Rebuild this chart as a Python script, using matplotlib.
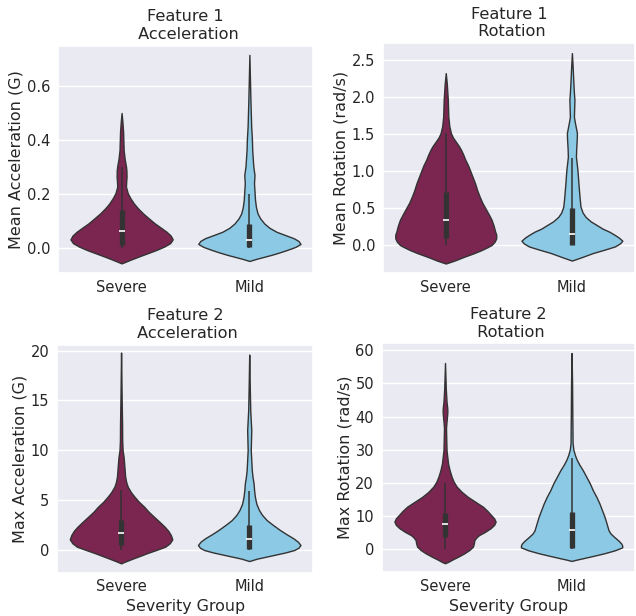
import matplotlib
matplotlib.use("Agg")
import matplotlib.pyplot as plt
import numpy as np
import seaborn as sns

GROUPS = ["Severe", "Mild"]
COLORS = ["#7A2650", "#8BC9E5"]
EDGE = "#333333"

# violin outlines: y values and relative half-width (max = 1)
# box stats: [whisker low, q1, median, q3, whisker high]

# Feature 1 - mean acceleration
ACC1_SEVERE_Y = [-0.057, -0.050, -0.043, -0.032, -0.020, -0.008, 0.005, 0.018, 0.032, 0.046,
                 0.060, 0.075, 0.091, 0.110, 0.128, 0.147, 0.165, 0.185, 0.203, 0.227,
                 0.245, 0.264, 0.285, 0.301, 0.33, 0.363, 0.43, 0.47, 0.50]
ACC1_SEVERE_W = [0, 0.09, 0.18, 0.33, 0.50, 0.67, 0.83, 0.95, 1.0, 0.96,
                 0.88, 0.77, 0.65, 0.53, 0.42, 0.32, 0.24, 0.17, 0.12, 0.085,
                 0.09, 0.097, 0.095, 0.087, 0.06, 0.04, 0.03, 0.015, 0]
ACC1_SEVERE_BOX = [0.0, 0.011, 0.064, 0.141, 0.301]

ACC1_MILD_Y = [-0.048, -0.040, -0.026, -0.017, -0.007, 0.004, 0.015, 0.026, 0.036, 0.048,
               0.060, 0.075, 0.091, 0.110, 0.128, 0.150, 0.178, 0.21, 0.240, 0.27,
               0.301, 0.363, 0.40, 0.45, 0.55, 0.715]
ACC1_MILD_W = [0, 0.14, 0.42, 0.58, 0.74, 0.9, 1.0, 0.96, 0.87, 0.70,
               0.53, 0.39, 0.29, 0.21, 0.16, 0.13, 0.11, 0.1, 0.09, 0.1,
               0.077, 0.055, 0.05, 0.035, 0.02, 0]
ACC1_MILD_BOX = [0.0, 0.003, 0.028, 0.09, 0.20]

# Feature 1 - mean rotation
ROT1_SEVERE_Y = [-0.25, -0.21, -0.158, -0.11, -0.067, -0.03, 0.0, 0.045, 0.09, 0.14,
                 0.18, 0.26, 0.34, 0.42, 0.495, 0.57, 0.65, 0.74, 0.83, 0.92,
                 1.01, 1.08, 1.15, 1.22, 1.28, 1.33, 1.37, 1.41, 1.45, 1.51,
                 1.6, 1.73, 1.96, 2.18, 2.32]
ROT1_SEVERE_W = [0, 0.17, 0.36, 0.55, 0.70, 0.81, 0.89, 0.95, 0.98, 0.98,
                 0.96, 0.93, 0.89, 0.83, 0.77, 0.71, 0.66, 0.61, 0.57, 0.52,
                 0.47, 0.43, 0.38, 0.34, 0.30, 0.26, 0.22, 0.18, 0.14, 0.1,
                 0.07, 0.05, 0.04, 0.02, 0]
ROT1_SEVERE_BOX = [0.0, 0.09, 0.34, 0.72, 1.51]

ROT1_MILD_Y = [-0.21, -0.17, -0.11, -0.06, -0.02, 0.02, 0.058, 0.10, 0.14, 0.18,
               0.22, 0.27, 0.32, 0.38, 0.44, 0.52, 0.62, 0.74, 0.87, 1.01,
               1.1, 1.19, 1.3, 1.42, 1.51, 1.58, 1.65, 1.73, 1.85, 1.96,
               2.05, 2.18, 2.4, 2.59]
ROT1_MILD_W = [0, 0.17, 0.41, 0.66, 0.85, 0.95, 1.0, 0.93, 0.84, 0.74,
               0.61, 0.49, 0.37, 0.27, 0.21, 0.17, 0.155, 0.14, 0.125, 0.11,
               0.095, 0.08, 0.085, 0.095, 0.1, 0.08, 0.06, 0.04, 0.045, 0.05,
               0.04, 0.03, 0.015, 0]
ROT1_MILD_BOX = [0.0, 0.0, 0.145, 0.495, 1.18]

# Feature 2 - max acceleration
ACC2_SEVERE_Y = [-1.37, -1.15, -0.87, -0.6, -0.36, 0.0, 0.30, 0.65, 1.04, 1.48,
                 1.9, 2.31, 2.8, 3.32, 3.8, 4.32, 4.8, 5.33, 5.8, 6.33,
                 6.8, 7.34, 8.0, 8.68, 9.3, 10.0, 11.0, 12.6, 15.0, 19.8]
ACC2_SEVERE_W = [0, 0.1, 0.24, 0.38, 0.5, 0.7, 0.86, 0.95, 1.0, 0.97,
                 0.92, 0.85, 0.75, 0.64, 0.54, 0.45, 0.35, 0.26, 0.19, 0.13,
                 0.1, 0.08, 0.07, 0.06, 0.05, 0.03, 0.022, 0.02, 0.012, 0]
ACC2_SEVERE_BOX = [0.0, 0.45, 1.63, 3.0, 6.0]

ACC2_MILD_Y = [-1.14, -0.9, -0.53, -0.28, -0.03, 0.2, 0.47, 0.8, 1.15, 1.55,
               1.98, 2.5, 2.98, 3.5, 3.99, 4.6, 5.33, 6.0, 6.67, 7.3,
               8.0, 9.0, 10.0, 11.0, 12.0, 13.0, 14.0, 16.0, 19.6]
ACC2_MILD_W = [0, 0.15, 0.48, 0.7, 0.88, 0.96, 1.0, 0.95, 0.86, 0.73,
               0.6, 0.46, 0.34, 0.25, 0.19, 0.14, 0.11, 0.095, 0.085, 0.065,
               0.05, 0.04, 0.03, 0.035, 0.04, 0.03, 0.02, 0.012, 0]
ACC2_MILD_BOX = [0.0, 0.1, 1.07, 2.53, 5.9]

# Feature 2 - max rotation
ROT2_SEVERE_Y = [-4.4, -4.0, -3.4, -2.4, -1.4, -0.4, 0.6, 1.6, 2.6, 3.4,
                 4.1, 5.1, 6.2, 7.2, 8.2, 9.2, 10.2, 11.4, 12.7, 14.2,
                 15.7, 17.2, 18.8, 20.3, 21.8, 23.8, 25.8, 29.8, 33.0, 36.5,
                 38.5, 40.0, 41.3, 42.5, 44.5, 48.6, 56.2]
ROT2_SEVERE_W = [0, 0.06, 0.13, 0.26, 0.38, 0.48, 0.55, 0.57, 0.58, 0.62,
                 0.67, 0.79, 0.9, 0.97, 1.0, 0.97, 0.91, 0.84, 0.75, 0.6,
                 0.45, 0.33, 0.23, 0.17, 0.13, 0.09, 0.06, 0.03, 0.025, 0.02,
                 0.03, 0.04, 0.046, 0.045, 0.03, 0.015, 0]
ROT2_SEVERE_BOX = [0.0, 3.45, 7.5, 10.9, 19.8]

ROT2_MILD_Y = [-3.7, -3.3, -2.9, -2.2, -1.4, -0.5, 0.4, 1.0, 1.6, 2.4,
               3.6, 4.6, 5.6, 6.65, 8.2, 9.7, 11.7, 13.7, 15.7, 17.7,
               19.8, 21.8, 23.8, 25.4, 27.0, 28.4, 30.0, 32.0, 40.0, 50.0,
               59.2]
ROT2_MILD_W = [0, 0.1, 0.22, 0.42, 0.64, 0.85, 1.0, 1.0, 0.98, 0.93,
               0.84, 0.77, 0.73, 0.71, 0.68, 0.65, 0.6, 0.55, 0.49, 0.42,
               0.36, 0.29, 0.22, 0.155, 0.1, 0.065, 0.035, 0.02, 0.015, 0.01,
               0]
ROT2_MILD_BOX = [0.0, 0.1, 5.65, 11.2, 27.5]


def draw_panel(ax, profiles, boxes, ylim, yticks, ylabel, title, xlabel=None):
    stats = []
    for (ys, ws), box in zip(profiles, boxes):
        stats.append({"coords": np.array(ys), "vals": np.array(ws, dtype=float),
                      "mean": box[2], "median": box[2], "min": box[0], "max": box[4]})
    parts = ax.violin(stats, positions=[0, 1], widths=0.8,
                      showmeans=False, showextrema=False, showmedians=False)
    for body, color in zip(parts["bodies"], COLORS):
        body.set_facecolor(color)
        body.set_edgecolor(EDGE)
        body.set_alpha(1)
        body.set_linewidth(1.0)
        body.set_joinstyle("round")
        body.set_zorder(2)
    for pos, box in zip([0, 1], boxes):
        lo, q1, med, q3, hi = box
        ax.vlines(pos, lo, hi, color=EDGE, lw=1.1, zorder=3)
        ax.vlines(pos, q1, q3, color=EDGE, lw=3.8, zorder=3)
        ax.plot(pos, med, marker="_", color="white", ms=4, mew=1.2, zorder=4)

    ax.set_xlim(-0.5, 1.5)
    ax.set_ylim(*ylim)
    ax.set_xticks([0, 1], GROUPS)
    ax.set_yticks(yticks)
    ax.grid(False, axis="x")
    ax.set_ylabel(ylabel, fontsize=11.5, labelpad=2)
    ax.set_title(title, fontsize=11.6, pad=5)
    if xlabel:
        ax.set_xlabel(xlabel, fontsize=11.4, labelpad=3.5)
    ax.tick_params(axis="x", labelsize=10.5, length=0, pad=5)
    ax.tick_params(axis="y", labelsize=10.5, length=0, pad=5.5)


sns.set_theme(style="darkgrid")
plt.rcParams["font.family"] = ["DejaVu Sans"]

fig = plt.figure(figsize=(6.36, 6.16), dpi=100)
ax1 = fig.add_axes([0.0907, 0.5573, 0.4019, 0.3685])
ax2 = fig.add_axes([0.6017, 0.5573, 0.3967, 0.3724])
ax3 = fig.add_axes([0.0896, 0.0706, 0.4030, 0.3700])
ax4 = fig.add_axes([0.6002, 0.0714, 0.3980, 0.3710])

draw_panel(ax1, [(ACC1_SEVERE_Y, ACC1_SEVERE_W), (ACC1_MILD_Y, ACC1_MILD_W)],
           [ACC1_SEVERE_BOX, ACC1_MILD_BOX], (-0.0915, 0.749), [0.0, 0.2, 0.4, 0.6],
           "Mean Acceleration (G)", "Feature 1\n Acceleration")
draw_panel(ax2, [(ROT1_SEVERE_Y, ROT1_SEVERE_W), (ROT1_MILD_Y, ROT1_MILD_W)],
           [ROT1_SEVERE_BOX, ROT1_MILD_BOX], (-0.374, 2.722), [0.0, 0.5, 1.0, 1.5, 2.0, 2.5],
           "Mean Rotation (rad/s)", "Feature 1\n Rotation")
draw_panel(ax3, [(ACC2_SEVERE_Y, ACC2_SEVERE_W), (ACC2_MILD_Y, ACC2_MILD_W)],
           [ACC2_SEVERE_BOX, ACC2_MILD_BOX], (-2.29, 20.6), [0, 5, 10, 15, 20],
           "Max Acceleration (G)", "Feature 2\n Acceleration", "Severity Group")
draw_panel(ax4, [(ROT2_SEVERE_Y, ROT2_SEVERE_W), (ROT2_MILD_Y, ROT2_MILD_W)],
           [ROT2_SEVERE_BOX, ROT2_MILD_BOX], (-7.05, 62.1), [0, 10, 20, 30, 40, 50, 60],
           "Max Rotation (rad/s)", "Feature 2\n Rotation", "Severity Group")

fig.savefig("out.png", dpi=100)
